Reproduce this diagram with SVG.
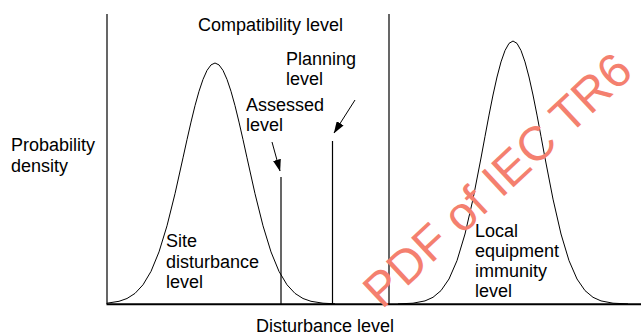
<svg xmlns="http://www.w3.org/2000/svg" width="641" height="335" viewBox="0 0 641 335">
<style>
text{font-family:"Liberation Sans",Arial,sans-serif;font-size:18px;fill:#000}
.ln{stroke:#000;stroke-width:1.2;fill:none}
.crv{stroke:#000;stroke-width:1;fill:none}
.arr{stroke:#000;stroke-width:1;fill:none;marker-end:url(#ah)}
.wm{font-size:48px;fill:#f4806f}
</style>
<defs>
<marker id="ah" markerWidth="12" markerHeight="8" refX="11.5" refY="4" orient="auto" markerUnits="userSpaceOnUse"><path d="M0,0 L12,4 L0,8 z" fill="#000"/></marker>
</defs>
<rect width="641" height="335" fill="#fff"/>
<g id="axes">
<line class="ln" x1="107" y1="14" x2="107" y2="304"/>
<line x1="106.5" y1="304.3" x2="641" y2="304.3" stroke="#000" stroke-width="2"/>
</g>
<g id="site-disturbance-distribution">
<polyline class="crv" points="107,303.2 119,301.3 127,298.5 135,293.4 143,284.8 151,271.4 159,251.9 167,225.8 175,193.7 183,157.8 187,139.6 191,122.1 195,105.7 199,91.3 203,79.4 207,70.4 211,64.9 215,63 219,64.9 223,70.4 227,79.4 231,91.3 235,105.7 239,122.1 243,139.6 247,157.8 255,193.7 263,225.8 271,251.9 279,271.4 287,284.8 295,293.4 303,298.5 311,301.3 323,303.2 335,303.8"/>
</g>
<g id="immunity-distribution">
<polyline class="crv" points="398,303.9 413,303.2 425,300.9 433,297.3 441,290.6 449,279 457,260.6 465,234 473,199.1 481,158 485,136.4 489,115.1 493,95 497,77 501,61.9 505,50.5 509,43.4 513,41 517,43.4 521,50.5 525,61.9 529,77 533,95 537,115.1 541,136.4 545,158 553,199.1 561,234 569,260.6 577,279 585,290.6 593,297.3 601,300.9 613,303.2 628,303.9"/>
</g>
<g id="compatibility-level">
<line class="ln" x1="389" y1="14" x2="389" y2="304"/>
<text x="198" y="31">Compatibility level</text>
</g>
<g id="assessed-level">
<line class="ln" x1="281" y1="177" x2="281" y2="304"/>
<text x="246" y="111">Assessed</text>
<text x="246" y="131">level</text>
</g>
<g id="planning-level">
<line class="ln" x1="332.5" y1="141" x2="332.5" y2="304"/>
<text x="286" y="65">Planning</text>
<text x="286" y="85">level</text>
</g>
<g id="connectors">
<line class="arr" x1="272" y1="142" x2="280" y2="171"/>
<line class="arr" x1="355" y1="100" x2="334" y2="133"/>
</g>
<g id="labels">
<text x="11" y="151">Probability</text>
<text x="11" y="172">density</text>
<text x="166" y="247">Site</text>
<text x="166" y="268">disturbance</text>
<text x="166" y="288">level</text>
<text x="475" y="237">Local</text>
<text x="475" y="257">equipment</text>
<text x="475" y="277">immunity</text>
<text x="475" y="297">level</text>
<text x="256" y="332">Disturbance level</text>
</g>
<g id="watermark" transform="translate(382,310) rotate(-43)">
<text class="wm" x="0" y="0">PDF of IEC TR6</text>
</g>
</svg>
